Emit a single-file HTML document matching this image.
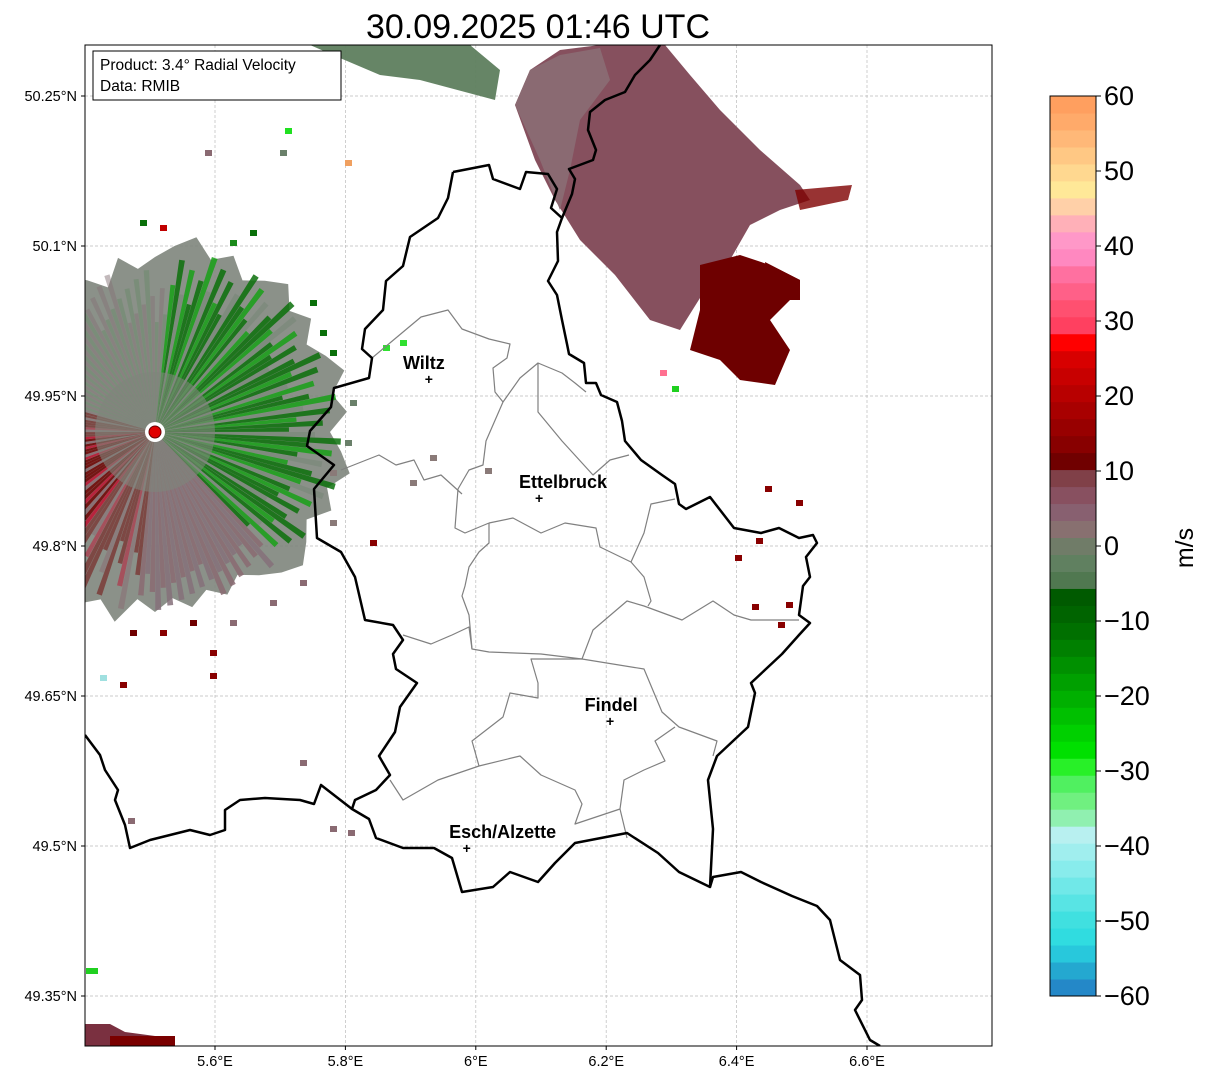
<!DOCTYPE html>
<html><head><meta charset="utf-8"><style>
html,body{margin:0;padding:0;background:#fff}
svg{display:block;font-family:"Liberation Sans","DejaVu Sans",sans-serif}
</style></head><body>
<svg id="fig" width="1207" height="1081" viewBox="0 0 1207 1081" xmlns="http://www.w3.org/2000/svg">
<defs><clipPath id="axclip"><rect x="85" y="45" width="907" height="1001"/></clipPath></defs>
<rect width="1207" height="1081" fill="#fff"/>
<text x="538" y="38" font-size="34" text-anchor="middle" fill="#000">30.09.2025 01:46 UTC</text>
<g id="grid"></g>
<g id="radar" clip-path="url(#axclip)"></g>
<g id="borders" clip-path="url(#axclip)"></g>
<g id="cities"></g>
<rect x="85" y="45" width="907" height="1001" fill="none" stroke="#000" stroke-width="1"/>
<g id="ticks"></g>
<g>
<rect x="93" y="51" width="248" height="49" fill="#fff" stroke="#000" stroke-width="1"/>
<text x="100" y="70" font-size="15.5">Product: 3.4° Radial Velocity</text>
<text x="100" y="91" font-size="15.5">Data: RMIB</text>
</g>
<g id="cbar"></g>
<text x="0" y="0" font-size="25" text-anchor="middle" transform="translate(1193,548) rotate(-90)">m/s</text>
</svg>
<script>
const lonTicks=[5.6,5.8,6.0,6.2,6.4,6.6];
const lonLabels=["5.6°E","5.8°E","6°E","6.2°E","6.4°E","6.6°E"];
const latTicks=[50.25,50.1,49.95,49.8,49.65,49.5,49.35];
const latLabels=["50.25°N","50.1°N","49.95°N","49.8°N","49.65°N","49.5°N","49.35°N"];
const cbTicks=[60,50,40,30,20,10,0,-10,-20,-30,-40,-50,-60];
const cbLabels=["60","50","40","30","20","10","0","\u221210","\u221220","\u221230","\u221240","\u221250","\u221260"];
const cbColors=["#2488c8","#24a8d0","#28c8dc","#30dce0","#40e0e0","#58e4e4","#70e8e8","#88ecec","#a0eeee","#b8f0f0","#90f0b0","#70f080","#50f060","#28f028","#00e000","#00d000","#00c000","#00b000","#00a000","#009000","#008000","#007000","#006400","#005a00","#507850","#608060","#707c68","#887070","#886070","#885060","#804048","#700000","#880000","#980000","#a80000","#b80000","#c80000","#d80000","#ff0000","#ff4060","#ff5070","#ff6088","#ff70a0","#ff88c0","#ff98c8","#ffb0b8","#ffd0a8","#ffe898","#ffd890","#ffc884","#ffb878","#ffaa6a","#ff9f5f"];
const cities=["Wiltz","Ettelbruck","Findel","Esch/Alzette"];
const cityLon=[5.928,6.097,6.206,5.986];
const cityLat=[49.967,49.848,49.625,49.498];
const labelDx=[-5,24,1,36];

const NS="http://www.w3.org/2000/svg";
const X=lon=>215+(lon-5.6)*652;
const Y=lat=>96+(50.25-lat)*1000;
const CB=v=>96+(60-v)*7.5;
function mk(tag,at,parent){const e=document.createElementNS(NS,tag);for(const k in at)e.setAttribute(k,at[k]);parent.appendChild(e);return e;}
const grid=document.getElementById('grid'),ticks=document.getElementById('ticks');
lonTicks.forEach((v,i)=>{
 const l=mk('line',{x1:X(v),x2:X(v),y1:45,y2:1046,stroke:'#bbb','stroke-width':0.7,'stroke-dasharray':'3,2'},grid);
 
 mk('line',{x1:X(v),x2:X(v),y1:1046,y2:1050,stroke:'#000'},ticks);
 const t=mk('text',{x:X(v),y:1066,'font-size':14.5,'text-anchor':'middle'},ticks);t.textContent=lonLabels[i];
 
});
latTicks.forEach((v,i)=>{
 const l=mk('line',{x1:85,x2:992,y1:Y(v),y2:Y(v),stroke:'#bbb','stroke-width':0.7,'stroke-dasharray':'3,2'},grid);
 
 mk('line',{x1:81,x2:85,y1:Y(v),y2:Y(v),stroke:'#000'},ticks);
 const t=mk('text',{x:77,y:Y(v)+5,'font-size':14.5,'text-anchor':'end'},ticks);t.textContent=latLabels[i];
 
});
// colorbar
const cb=document.getElementById('cbar');
const n=cbColors.length, step=120/n;
cbColors.forEach((c,i)=>{
 const v0=-60+i*step, v1=v0+step;
 const r=mk('rect',{x:1050,y:CB(v1),width:46,height:CB(v0)-CB(v1)+0.5,fill:c},cb);
 
});
mk('rect',{x:1050,y:96,width:46,height:900,fill:'none',stroke:'#000','stroke-width':1},cb);
cbTicks.forEach((v,i)=>{
 mk('line',{x1:1096,x2:1101,y1:CB(v),y2:CB(v),stroke:'#000'},cb);
 const t=mk('text',{x:1104,y:CB(v)+9,'font-size':27},cb);t.textContent=cbLabels[i];
 
});
// radar echoes
const rg=document.getElementById('radar');
function poly(pts,fill,name,op){const p=mk('polygon',{points:pts,fill:fill,opacity:op||1},rg);return p;}
poly("310,45 470,45 500,70 495,100 465,92 420,80 380,75 340,58","#5e7e5e","echo-north-green",0.95);
poly("515,105 530,70 560,50 600,45 665,45 690,75 720,110 760,150 800,185 810,200 780,210 750,225 730,260 705,290 680,330 650,320 615,275 580,240 555,200 535,160","#86505e","echo-ne-mauve");
poly("515,105 530,70 560,55 600,48 610,80 580,120 570,170 560,210 540,160","#8a6a72","echo-ne-light");
poly("700,265 740,255 770,265 800,280 790,300 770,320 790,350 775,385 740,380 720,360 690,350 700,310","#6e0000","echo-ne-core");
poly("765,262 800,280 800,300 770,300","#6e0000","echo-ne-core2");
poly("795,190 852,185 848,200 800,210","#7e0000","echo-ne-streak",0.8);
// site disk
const cx=155, cy=432;
const base=[];
for(let a=0;a<360;a+=6){const R=(a<135)?175+((a*37)%30):(a<190?165+((a*23)%25):(a<285?170+((a*17)%30):150+((a*31)%40)));const r=a*Math.PI/180;base.push((cx+R*Math.sin(r)).toFixed(1)+","+(cy-R*Math.cos(r)).toFixed(1));}
poly(base.join(" "),"#7e857c","radar-base-disk",0.9);
for(let a=0;a<360;a+=2){
 const ang=a*Math.PI/180;
 let R, col, op=0.85;
 if(a>=5&&a<135){col=(a%10==0)?"#7c8a7c":(a%6==0?"#18a018":"#0a700a");R=130+((a*13)%60);}
 else if(a>=185&&a<285){col=(a%10==0)?"#8a6a72":(a%8==0?"#c01030":"#700000");R=110+((a*29)%80);op=(a<215||a>265)?0.5:0.85;}
 else if(a>=135&&a<185){col=(a%4==0)?"#8a6a72":"#85707a";R=140+((a*11)%40);}
 else {col=(a%4==0)?"#6a8a6a":"#857478";R=110+((a*17)%60);op=0.5;}
 const a2=(a+1.9)*Math.PI/180;
 const pts=`${cx},${cy} ${(cx+R*Math.sin(ang)).toFixed(1)},${(cy-R*Math.cos(ang)).toFixed(1)} ${(cx+R*Math.sin(a2)).toFixed(1)},${(cy-R*Math.cos(a2)).toFixed(1)}`;
 const w=mk('polygon',{points:pts,fill:col,opacity:op},rg);
 
}
const inner=mk('circle',{cx:cx,cy:cy,r:60,fill:'#7e857c',opacity:0.6},rg);

mk('circle',{cx:cx,cy:cy,r:10,fill:'#fff'},rg);
const site=mk('circle',{cx:cx,cy:cy,r:6,fill:'#e00000',stroke:'#600','stroke-width':1},rg);

// scattered pixels
const specks=[[345,160,"#f0a060"],[205,150,"#8a6a72"],[285,128,"#20e020"],[280,150,"#6a806a"],[660,370,"#ff7090"],[672,386,"#20d020"],[765,486,"#880000"],[796,500,"#880000"],[735,555,"#880000"],[756,538,"#880000"],[752,604,"#880000"],[786,602,"#880000"],[778,622,"#880000"],[330,826,"#8a6a72"],[348,830,"#8a6a72"],[128,818,"#8a6a72"],[370,540,"#880000"],[400,340,"#30e030"],[383,345,"#30e030"],[430,455,"#8a7a78"],[410,480,"#8a7a78"],[485,468,"#8a7a78"],[210,673,"#880000"],[120,682,"#880000"],[100,675,"#a0e0e0"],[300,760,"#8a6a72"],[210,650,"#880000"],[160,630,"#880000"],[230,620,"#8a6a72"],[330,350,"#0a700a"],[320,330,"#0a700a"],[310,300,"#0a700a"],[250,230,"#0a700a"],[230,240,"#1a8a1a"],[140,220,"#0a700a"],[160,225,"#c00000"],[350,400,"#6a806a"],[345,440,"#6a806a"],[330,470,"#8a7a78"],[330,520,"#8a7a78"],[300,580,"#8a6a72"],[270,600,"#8a6a72"],[130,630,"#700000"],[190,620,"#700000"]];
specks.forEach(s=>{const r=mk('rect',{x:s[0],y:s[1],width:7,height:6,fill:s[2]},rg);});
poly("85,1024 110,1024 125,1032 170,1038 175,1046 85,1046","#7a3040","echo-sw-corner");
poly("110,1036 175,1036 175,1046 110,1046","#7a0000","echo-sw-core");
const g1=mk('rect',{x:86,y:968,width:12,height:6,fill:'#20d020'},rg);
// borders
const bg=document.getElementById('borders');
function line(pts,sw,col,name){const p=mk('polyline',{points:pts,fill:'none',stroke:col,'stroke-width':sw,'stroke-linejoin':'round'},bg);}
const gray=[
"372,358 421,317 448,310 462,329 489,339 510,344 507,358 493,368 495,392 503,402 520,378 538,363 562,373 575,383 586,392",
"503,402 486,441 483,465 469,470 458,489 455,528 465,533 489,523",
"538,363 538,412 562,441 593,475 610,460 629,455",
"341,470 379,455 396,465 414,460 424,480 441,475 462,494",
"489,523 513,518 541,533 565,523 596,528 600,547 631,562 644,533 651,504 675,499",
"489,523 489,543 479,552 469,567 465,586 462,596 469,615 472,649",
"631,562 644,577 651,601 648,606",
"403,635 431,644 452,635 469,627 472,649 489,652 541,654 582,659 593,630 627,601 644,606 682,620 713,601 734,615 751,620 799,620",
"582,659 531,659 538,683 538,698 510,693 503,717 472,741 479,766",
"582,659 644,669 662,712 679,727 717,741 713,756",
"675,727 655,741 665,761 644,770 624,780 620,809 627,838",
"390,780 403,800 438,780 479,766 520,756 541,775 575,790 582,804 575,824 620,809"];
gray.forEach(p=>line(p,1.2,'#808080','canton-boundary'));
line("453,172 448,198 438,218 410,237 403,266 386,281 383,310 365,329 362,349 372,358 369,378 334,388 331,407 310,431 307,446 334,465 314,489 317,538 341,552 355,577 365,620 393,625 403,640 393,654 396,669 417,683 400,707 395,732 379,756 390,775 376,790 355,800 352,809 369,819 376,838 403,848 434,848 452,858 462,892 493,887 510,872 538,882 555,863 575,843 627,833 658,853 679,872 710,887 713,829 708,780 717,756 748,727 755,693 751,683 782,654 799,635 810,623 799,615 803,586 810,577 806,557 817,543 813,535 799,538 779,528 761,533 734,528 710,497 686,509 679,504 675,484 662,475 641,460 625,441 622,421 617,402 601,395 596,383 586,383 584,363 569,354 567,344 562,320 557,295 548,281 558,261 557,232 562,218 551,208 557,189 548,174 526,172 520,189 493,179 489,165 453,172",2.5,'#000','luxembourg-border');
line("562,218 572,194 575,179 569,169 593,160 596,150 588,130 590,112 605,100 625,92 635,75 650,60 660,45",2.5,'#000','belgium-germany-border');
line("710,887 713,877 741,872 761,882 792,896 817,906 830,920 840,960 860,975 862,1000 855,1010 870,1040 880,1046",2.5,'#000','france-germany-border');
line("352,809 321,785 314,804 300,800 265,798 240,800 225,810 225,830 210,835 190,830 170,835 150,840 130,848 125,825 115,800 118,790 105,770 100,755 85,735",2.5,'#000','france-belgium-border');
// cities
const cg=document.getElementById('cities');
cities.forEach((c,i)=>{
 const x=X(cityLon[i]),y=Y(cityLat[i]);
 const m=mk('text',{x:x,y:y+5,'font-size':14,'text-anchor':'middle','font-weight':'bold'},cg);m.textContent='+';
 
 const t=mk('text',{x:x+labelDx[i],y:y-10,'font-size':18,'text-anchor':'middle','font-weight':'bold'},cg);t.textContent=c;
 
});
</script>
</body></html>
